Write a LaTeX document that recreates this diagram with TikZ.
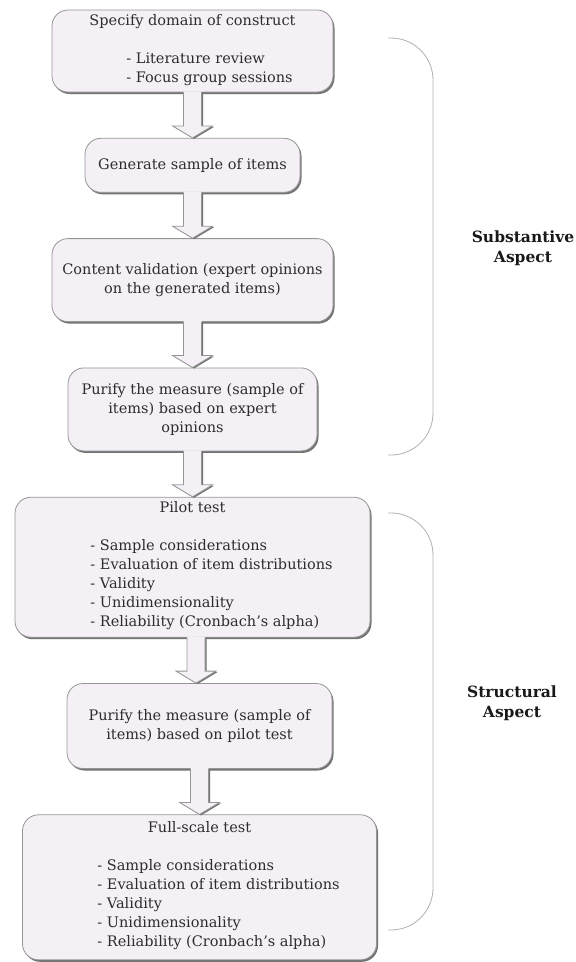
\documentclass[tikz,border=0pt]{standalone}
\usepackage{fontspec}
\setmainfont{DejaVu Serif}
\usetikzlibrary{positioning,calc,shadows}

\definecolor{boxfill}{RGB}{244,240,246}
\definecolor{boxline}{RGB}{150,150,150}
\definecolor{shadowcol}{RGB}{115,115,115}
\definecolor{textcol}{RGB}{45,45,45}
\definecolor{labelcol}{RGB}{25,25,25}
\definecolor{bracketcol}{RGB}{175,175,175}

% hollow block arrow from the bottom of #1 to the top of #2
\newcommand{\blockarrow}[2]{%
  \path let \p1=($(#1.south)!0.5!(#2.north)$), \p2=(#1.south), \p3=(#2.north) in
    [arrowfill] (\x1-9pt,\y2+1pt) -- (\x1-9pt,\y3+12pt) -- (\x1-20pt,\y3+12pt)
    -- (\x1,\y3) -- (\x1+20pt,\y3+12pt) -- (\x1+9pt,\y3+12pt) -- (\x1+9pt,\y2+1pt) -- cycle;
  \path let \p1=($(#1.south)!0.5!(#2.north)$), \p2=(#1.south), \p3=(#2.north) in
    [arrowline] (\x1-9pt,\y2) -- (\x1-9pt,\y3+12pt) -- (\x1-20pt,\y3+12pt)
    -- (\x1,\y3) -- (\x1+20pt,\y3+12pt) -- (\x1+9pt,\y3+12pt) -- (\x1+9pt,\y2);
}

\begin{document}
\begin{tikzpicture}[x=1pt,y=-1pt,
    node distance=45.5pt,
    stage/.style={draw=boxline, fill=boxfill, rounded corners=16pt, line width=0.8pt,
                  align=center, inner sep=3pt, text=textcol,
                  font=\fontsize{14.5}{19}\selectfont,
                  drop shadow={shadow xshift=1.5pt, shadow yshift=-2pt,
                               fill=shadowcol, opacity=1}},
    arrowfill/.style={fill=boxfill, drop shadow={shadow xshift=1.5pt,
                      shadow yshift=-1pt, fill=shadowcol, opacity=1}},
    arrowline/.style={draw=boxline, line width=0.8pt, line join=miter},
    bracket/.style={draw=bracketcol, line width=0.8pt, rounded corners=42pt},
    aspect/.style={font=\fontsize{15.5}{20}\selectfont\bfseries, align=center,
                   text=labelcol},
]
  \useasboundingbox (0,0) rectangle (576,962);

  % Flow nodes
  \node[stage, minimum width=281pt, minimum height=82pt] (domain) at (192.5,51)
    {Specify domain of construct\\[19pt]
     \begin{tabular}[t]{@{\hspace{34pt}}l@{}}- Literature review\\- Focus group sessions\end{tabular}};
  \node[stage, minimum width=215pt, minimum height=54pt, below=of domain] (generate)
    {Generate sample of items};
  \node[stage, minimum width=281pt, minimum height=83pt, below=of generate] (content)
    {Content validation (expert opinions\\on the generated items)};
  \node[stage, minimum width=249pt, minimum height=83pt, below=of content] (purifyexp)
    {Purify the measure (sample of\\items) based on expert\\opinions};
  \node[stage, minimum width=355pt, minimum height=140pt, below=of purifyexp] (pilot)
    {Pilot test\\[19pt]
     \begin{tabular}[t]{@{\hspace{38pt}}l@{}}- Sample considerations\\- Evaluation of item distributions\\
      - Validity\\- Unidimensionality\\- Reliability (Cronbach's alpha)\end{tabular}};
  \node[stage, minimum width=265pt, minimum height=85pt, below=of pilot, xshift=7pt] (purifypilot)
    {Purify the measure (sample of\\items) based on pilot test};
  \node[stage, minimum width=354pt, minimum height=145pt, below=of purifypilot] (full)
    {Full-scale test\\[19pt]
     \begin{tabular}[t]{@{\hspace{38pt}}l@{}}- Sample considerations\\- Evaluation of item distributions\\
      - Validity\\- Unidimensionality\\- Reliability (Cronbach's alpha)\end{tabular}};

  % Arrows
  \blockarrow{domain}{generate}
  \blockarrow{generate}{content}
  \blockarrow{content}{purifyexp}
  \blockarrow{purifyexp}{pilot}
  \blockarrow{pilot}{purifypilot}
  \blockarrow{purifypilot}{full}

  % Brackets and labels
  \draw[bracket] (388,38) -- (433,38) -- (433,455) -- (388,455);
  \draw[bracket] (388,513) -- (433,513) -- (433,930) -- (388,930);
  \node[aspect] (substantive) at (523,248) {Substantive\\Aspect};
  \node[aspect] (structural) at (512,703) {Structural\\Aspect};
\end{tikzpicture}
\end{document}
